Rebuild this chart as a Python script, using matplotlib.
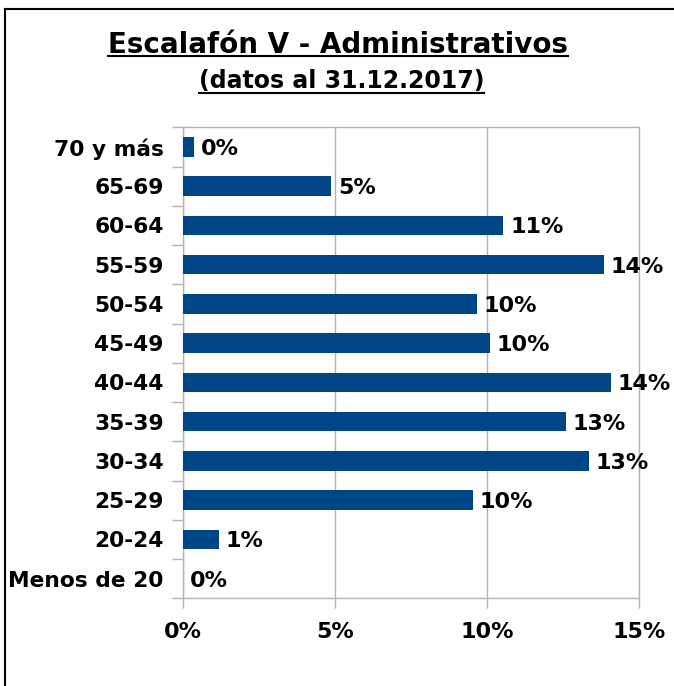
import matplotlib
matplotlib.use('Agg')
import matplotlib.pyplot as plt
from matplotlib.lines import Line2D
import numpy as np

categories = ['Menos de 20', '20-24', '25-29', '30-34', '35-39', '40-44',
              '45-49', '50-54', '55-59', '60-64', '65-69', '70 y más']
values = [0.0, 1.16, 9.53, 13.34, 12.59, 14.07, 10.09, 9.66, 13.84, 10.52, 4.86, 0.35]
xticks = [0, 5, 10, 15]
xtick_labels = ['0%', '5%', '10%', '15%']
title = 'Escalafón V - Administrativos'
subtitle = '(datos al 31.12.2017)'

W, H = 674, 686
fig = plt.figure(figsize=(W / 100, H / 100), dpi=100)
ax = fig.add_axes([183.3 / W, 1 - 598.3 / H, (639.3 - 183.3) / W, (598.3 - 127.3) / H])

grey = '#b3b3b3'
fs = 16
y = np.arange(len(categories))
ax.barh(y, values, height=0.5, color='#004586', zorder=3)
ax.set_ylim(-0.5, len(categories) - 0.5)
ax.set_xlim(0, 15)

for i, v in enumerate(values):
    ax.annotate(f'{round(v)}%', (v, i), xytext=(5, 0), textcoords='offset points',
                va='center_baseline', ha='left', fontsize=fs, fontweight='bold',
                color='black', zorder=4, annotation_clip=False)

ax.set_yticks(y)
ax.set_yticklabels(categories, fontsize=15.7, fontweight='bold')
ax.set_yticks(np.arange(-0.5, len(categories), 1), minor=True)
ax.tick_params(axis='y', which='major', length=0, pad=14)
ax.tick_params(axis='y', which='minor', length=8, color=grey, width=1)

ax.set_xticks(xticks)
ax.set_xticklabels(xtick_labels, fontsize=fs, fontweight='bold')
ax.tick_params(axis='x', which='major', length=7, color=grey, width=1, pad=10)

ax.grid(axis='x', color=grey, linewidth=1, zorder=0)
for s in ax.spines.values():
    s.set_color(grey)
    s.set_linewidth(1)

tfont = dict(family='DejaVu Sans', weight='bold')
t1 = fig.text(338.3 / W, 1 - 53.3 / H, title, ha='center', va='baseline',
              fontsize=20, **tfont)
t2 = fig.text(341.3 / W, 1 - 88.3 / H, subtitle, ha='center', va='baseline',
              fontsize=17, **tfont)

fig.canvas.draw()
r = fig.canvas.get_renderer()
for t, uy in ((t1, 56.0), (t2, 93.0)):
    bb = t.get_window_extent(r)
    fig.add_artist(Line2D([bb.x0 / W, bb.x1 / W], [1 - uy / H, 1 - uy / H],
                          color='black', linewidth=1.5, transform=fig.transFigure))

fig.add_artist(Line2D([4.5 / W, 4.5 / W], [0, 1 - 9 / H], color='black', linewidth=1.5,
                      transform=fig.transFigure))
fig.add_artist(Line2D([4.5 / W, 1], [1 - 9 / H, 1 - 9 / H], color='black', linewidth=1.5,
                      transform=fig.transFigure))

fig.savefig('out.png', dpi=100, facecolor='white')
